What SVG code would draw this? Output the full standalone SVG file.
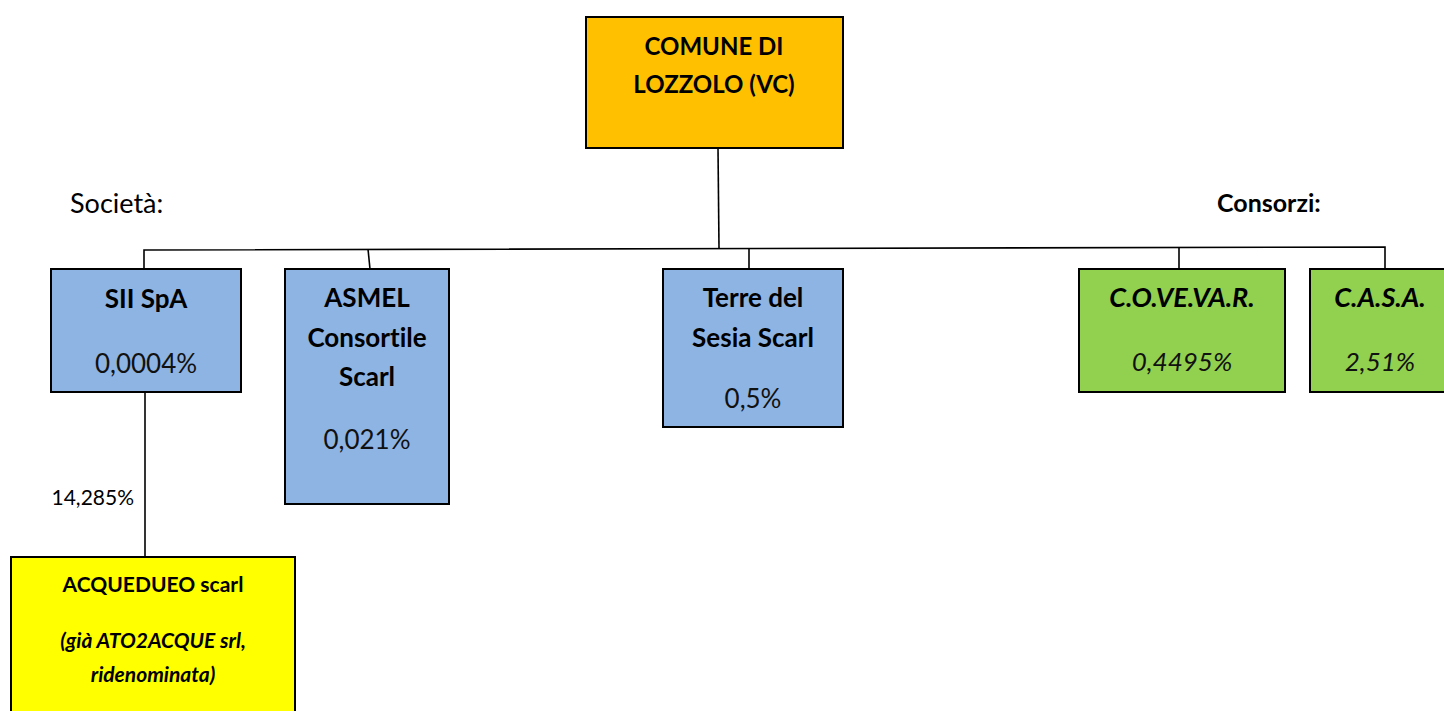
<svg xmlns="http://www.w3.org/2000/svg" width="1444" height="711" viewBox="0 0 1444 711">
<style>
.box{stroke:#000;stroke-width:2}
.t{font-family:Lato,"Liberation Sans",sans-serif;font-size:26px;fill:#000;text-anchor:middle;font-variant-ligatures:none}
.b{font-weight:bold}
.l{font-weight:normal;fill:#111}
.i{font-style:italic}
.c{fill:none;stroke:#000;stroke-width:1.6}
</style>
<rect width="1444" height="711" fill="#fff"/>
<g id="connectors">
<polyline class="c" points="718,148 719,248"/>
<polyline class="c" points="144,269 144,250 1385,247 1385,269"/>
<line class="c" x1="368" y1="249" x2="370" y2="269"/>
<line class="c" x1="749" y1="249" x2="749" y2="269"/>
<line class="c" x1="1179" y1="248" x2="1179" y2="269"/>
<line class="c" x1="145" y1="392" x2="145" y2="557"/>
</g>
<g id="labels">
<text class="t" x="70" y="213" style="text-anchor:start;font-size:27px">Società:</text>
<text class="t b" x="1217" y="212" style="text-anchor:start;font-size:25px">Consorzi:</text>
<text class="t" x="134" y="505" style="text-anchor:end;font-size:21px">14,285%</text>
</g>
<g id="comune">
<rect class="box" x="586" y="17" width="257" height="131" fill="#FFC000"/>
<text class="t b" x="714" y="55" style="font-size:24px">COMUNE DI</text>
<text class="t b" x="714" y="93" style="font-size:24px">LOZZOLO (VC)</text>
</g>
<g id="sii">
<rect class="box" x="51" y="269" width="190" height="123" fill="#8EB4E3"/>
<text class="t b" x="146" y="308">SII SpA</text>
<text class="t l" x="146" y="373">0,0004%</text>
</g>
<g id="asmel">
<rect class="box" x="285" y="269" width="164" height="235" fill="#8EB4E3"/>
<text class="t b" x="367" y="307">ASMEL</text>
<text class="t b" x="367" y="347">Consortile</text>
<text class="t b" x="367" y="386">Scarl</text>
<text class="t l" x="367" y="449">0,021%</text>
</g>
<g id="terre">
<rect class="box" x="663" y="269" width="180" height="158" fill="#8EB4E3"/>
<text class="t b" x="753" y="307">Terre del</text>
<text class="t b" x="753" y="347">Sesia Scarl</text>
<text class="t l" x="753" y="408">0,5%</text>
</g>
<g id="covevar">
<rect class="box" x="1079" y="269" width="206" height="123" fill="#92D050"/>
<text class="t b i" x="1182" y="307" style="font-size:27px">C.O.VE.VA.R.</text>
<text class="t l i" x="1182" y="371">0,4495%</text>
</g>
<g id="casa">
<rect class="box" x="1310" y="269" width="140" height="123" fill="#92D050"/>
<text class="t b i" x="1380" y="307" style="font-size:27px">C.A.S.A.</text>
<text class="t l i" x="1380" y="371">2,51%</text>
</g>
<g id="acquedueo">
<rect class="box" x="11" y="557" width="284" height="170" fill="#FFFF00"/>
<text class="t b" x="153" y="592" style="font-size:21px">ACQUEDUEO scarl</text>
<text class="t b i" x="153" y="648" style="font-size:21px">(già ATO2ACQUE srl,</text>
<text class="t b i" x="153" y="682" style="font-size:21px">ridenominata)</text>
</g>
</svg>
